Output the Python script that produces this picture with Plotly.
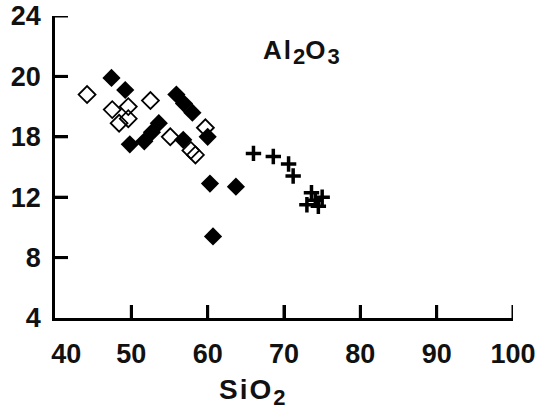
import plotly.graph_objects as go

# Filled diamonds (SiO2, Al2O3)
filled_x = [47.4, 49.2, 49.8, 51.7, 52.7, 53.6, 55.9, 56.9, 58.0, 56.8, 60.0, 60.3, 63.7, 60.7]
filled_y = [19.9, 19.1, 15.5, 15.7, 16.3, 16.9, 18.8, 18.2, 17.6, 15.8, 16.0, 12.9, 12.7, 9.4]

# Open diamonds
open_x = [44.2, 47.5, 49.6, 52.5, 48.4, 49.6, 59.7, 55.1, 57.8, 58.4]
open_y = [18.8, 17.8, 18.0, 18.4, 16.9, 17.2, 16.6, 16.0, 15.1, 14.8]

# Crosses
cross_x = [66.0, 68.6, 70.6, 71.2, 73.6, 75.0, 73.0, 74.5, 74.1]
cross_y = [14.9, 14.7, 14.2, 13.4, 12.3, 12.0, 11.5, 11.4, 11.8]

x_ticks = [40, 50, 60, 70, 80, 90, 100]
x_ticktext = ["\u00a0\u00a0\u00a040", "50", "60", "70", "80", "90", "100"]
y_tickvals = [4, 8, 12, 16, 20, 24]
y_ticktext = ["4", "8", "12", "18", "20", "24"]

FONT = "Liberation Sans"
TICK_LEN = 13
fig = go.Figure()
fig.add_trace(go.Scatter(x=open_x, y=open_y, mode="markers",
                         marker=dict(symbol="diamond-open", size=13, color="black",
                                     line=dict(width=1.8, color="black"))))
fig.add_trace(go.Scatter(x=filled_x, y=filled_y, mode="markers",
                         marker=dict(symbol="diamond", size=14, color="black",
                                     line=dict(width=0))))
fig.add_trace(go.Scatter(x=cross_x, y=cross_y, mode="markers",
                         marker=dict(symbol="cross-thin", size=11, color="black",
                                     line=dict(width=3.5, color="black"))))

axis_common = dict(showgrid=False, zeroline=False, showline=True, linecolor="black",
                   linewidth=2.5, ticks="inside", ticklen=TICK_LEN, tickwidth=3,
                   tickcolor="black", automargin=False, showticklabels=True,
                   tickfont=dict(family=FONT, size=27, color="#111", weight="bold"))
fig.update_xaxes(range=[40, 100], tickmode="array", tickvals=x_ticks, ticktext=x_ticktext,
                 ticklabelstandoff=10, **axis_common)
fig.update_yaxes(range=[4, 24], tickmode="array", tickvals=y_tickvals, ticktext=y_ticktext,
                 ticklabelstandoff=6, **axis_common)

# Inward tick marks placed at the tick values (pixel-length, axis-anchored)
for v in x_ticks[1:]:
    fig.add_shape(type="line", xref="x", yref="paper", x0=v, x1=v,
                  ysizemode="pixel", yanchor=0, y0=0, y1=TICK_LEN, layer="above",
                  line=dict(color="black", width=3))
for v in y_tickvals[1:]:
    fig.add_shape(type="line", yref="y", xref="paper", y0=v, y1=v,
                  xsizemode="pixel", xanchor=0, x0=0, x1=TICK_LEN, layer="above",
                  line=dict(color="black", width=3))

fig.add_annotation(
    text="<span style='letter-spacing:2px'>SiO</span><sub><span style='font-size:22px'>2</span></sub>",
    xref="paper", yref="paper", x=0.43, y=-0.18, xanchor="center", yanchor="top",
    showarrow=False, font=dict(family=FONT, size=28, color="#111", weight="bold"))
fig.add_annotation(
    text="<span style='letter-spacing:2px'>Al</span><sub><span style='font-size:22px'>2</span></sub>"
         "<span style='letter-spacing:2px'>O</span><sub><span style='font-size:22px'>3</span></sub>",
    x=67.0, y=21.6, xanchor="left", yanchor="middle", showarrow=False,
    font=dict(family=FONT, size=26, color="#111", weight="bold"))

fig.update_layout(width=543, height=415, margin=dict(l=55, r=30, t=16, b=97),
                  paper_bgcolor="white", plot_bgcolor="white", showlegend=False)
fig.write_html("out.html")
